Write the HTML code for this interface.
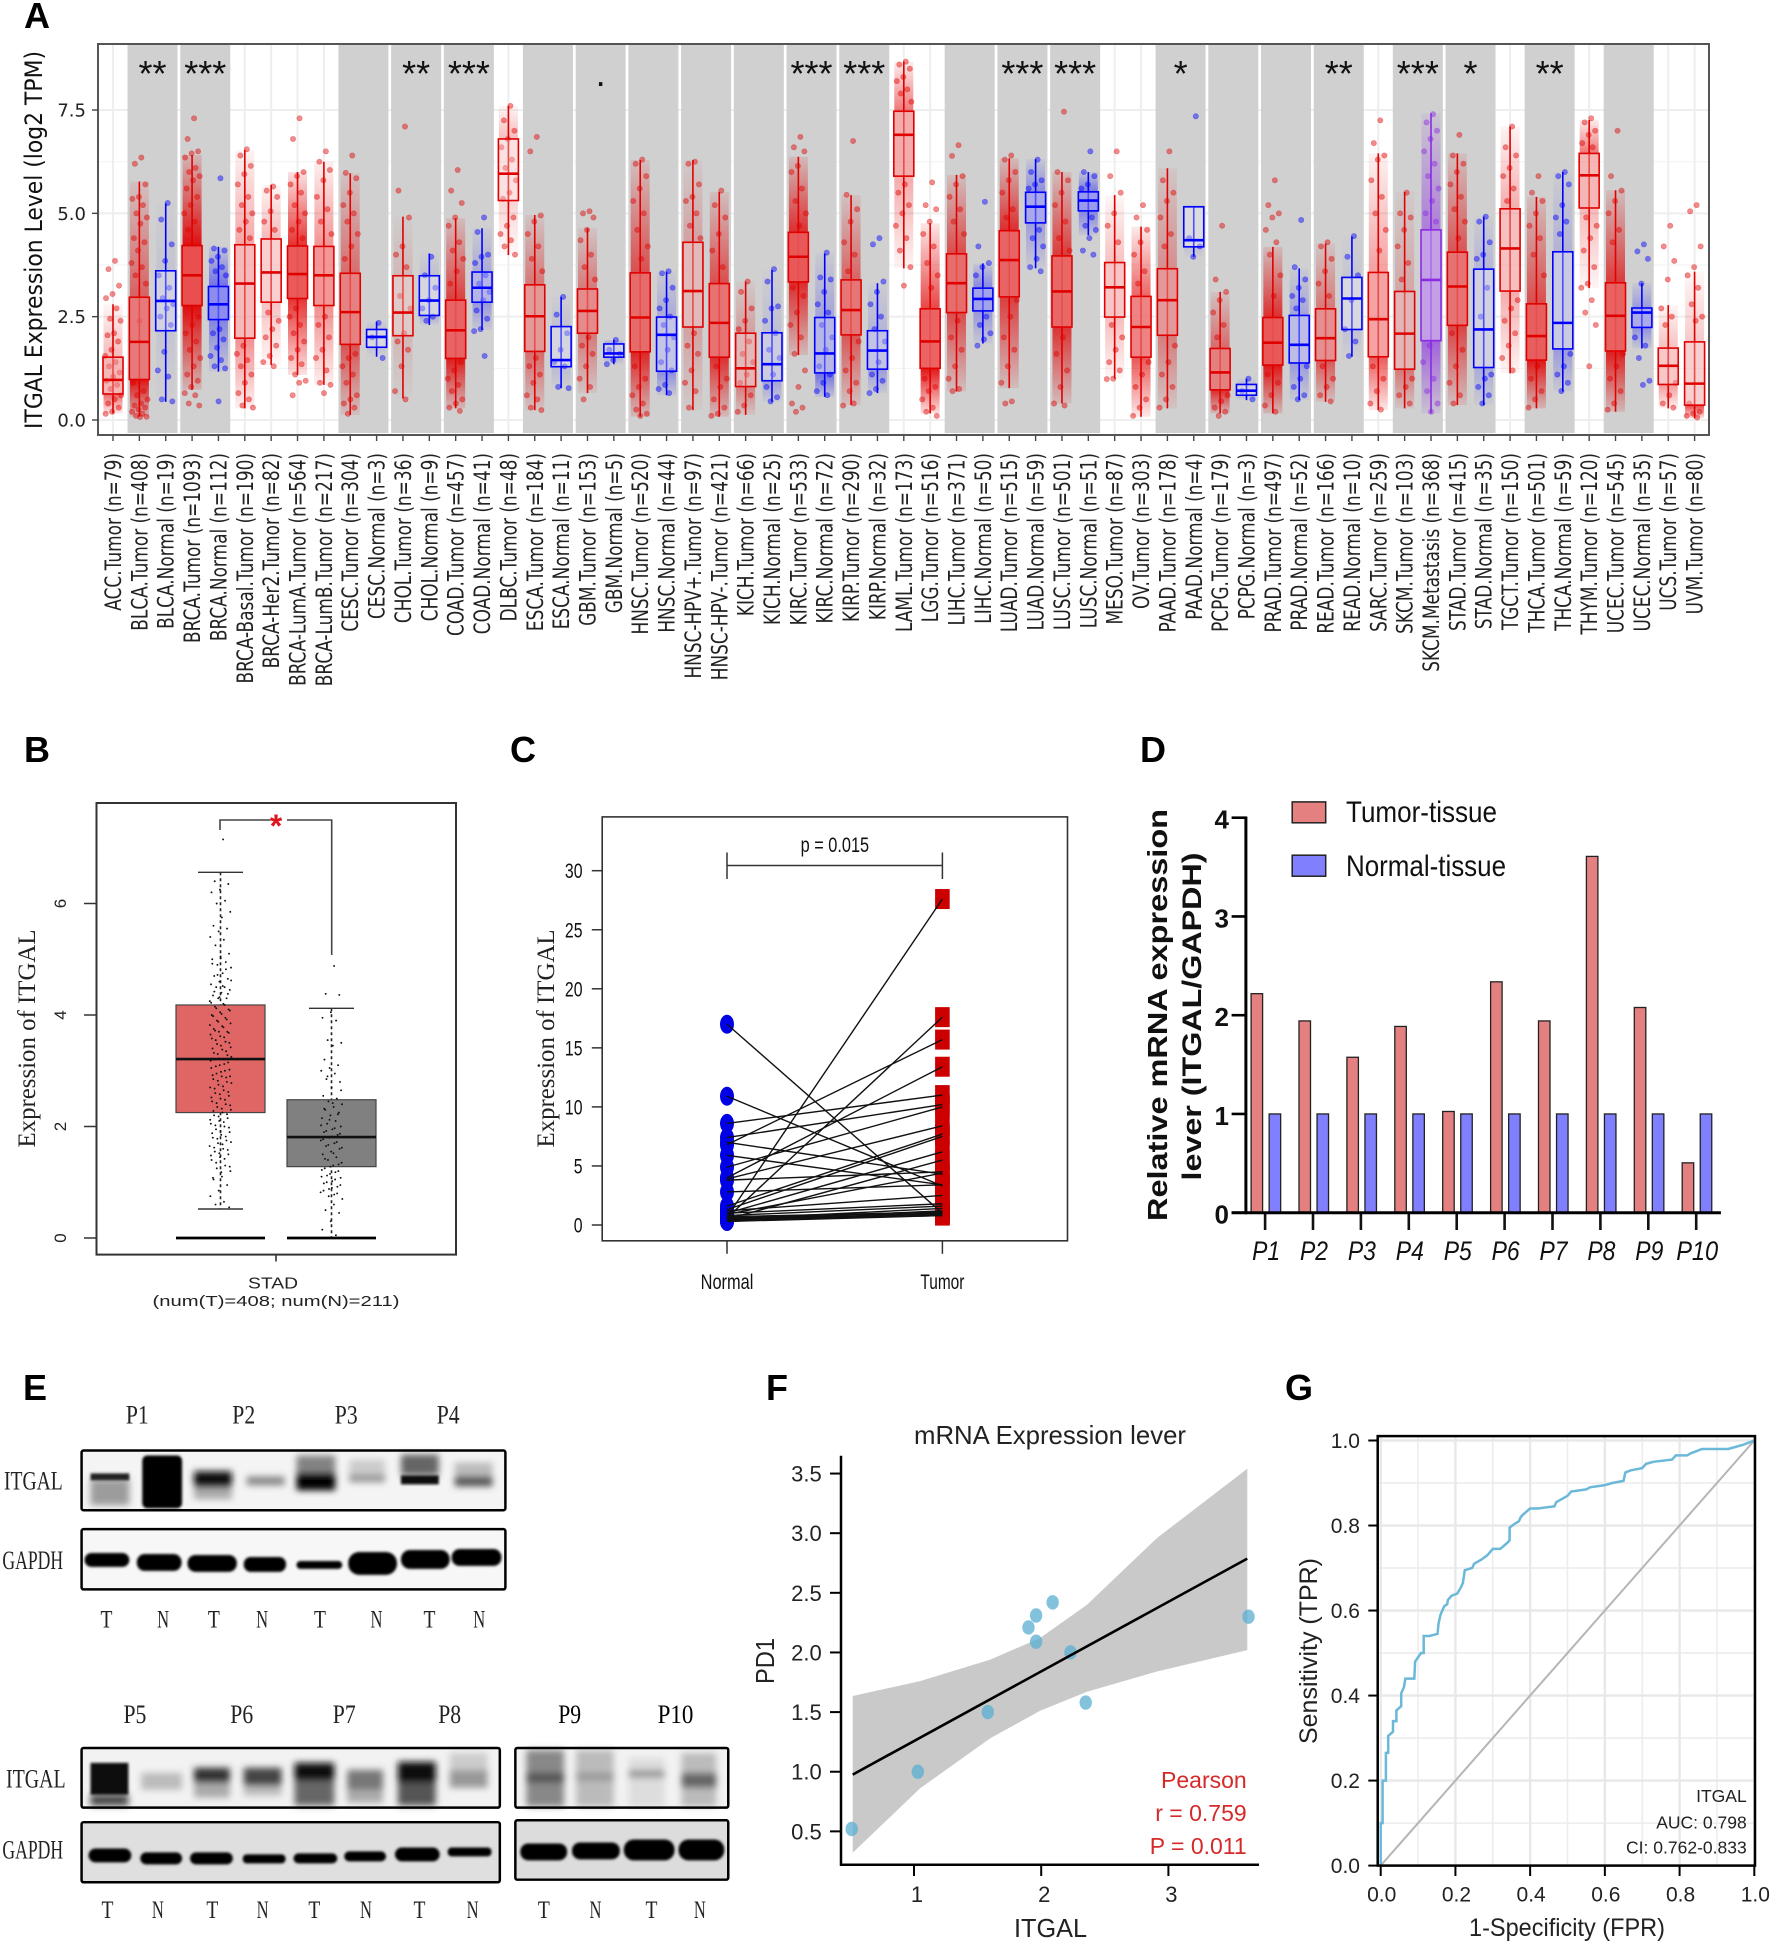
<!DOCTYPE html>
<html lang="en">
<head>
<meta charset="utf-8">
<title>ITGAL expression figure</title>
<style>
html,body{margin:0;padding:0;background:#fff}
svg{display:block}
text{font-family:"Liberation Sans",sans-serif}
.serif{font-family:"Liberation Serif",serif}
.dj{font-family:"DejaVu Sans",sans-serif}
.letter{font-weight:700;font-size:36px;fill:#000}
.rotmid{text-anchor:middle}
</style>
</head>
<body>
<svg id="fig" xmlns="http://www.w3.org/2000/svg" width="1772" height="1942" viewBox="0 0 1772 1942">
<defs>
<filter id="b1" x="-30%" y="-60%" width="160%" height="220%"><feGaussianBlur stdDeviation="1.3"/></filter>
<filter id="b3" x="-30%" y="-60%" width="160%" height="220%"><feGaussianBlur stdDeviation="3.4"/></filter>
<linearGradient id="tail-up-red" x1="0" y1="0" x2="0" y2="1"><stop offset="0" stop-color="#e00000" stop-opacity=".14"/><stop offset="1" stop-color="#e00000"/></linearGradient>
<linearGradient id="tail-down-red" x1="0" y1="0" x2="0" y2="1"><stop offset="0" stop-color="#e00000"/><stop offset="1" stop-color="#e00000" stop-opacity=".14"/></linearGradient>
<linearGradient id="tail-up-blue" x1="0" y1="0" x2="0" y2="1"><stop offset="0" stop-color="#0000ff" stop-opacity=".14"/><stop offset="1" stop-color="#0000ff"/></linearGradient>
<linearGradient id="tail-down-blue" x1="0" y1="0" x2="0" y2="1"><stop offset="0" stop-color="#0000ff"/><stop offset="1" stop-color="#0000ff" stop-opacity=".14"/></linearGradient>
<linearGradient id="tail-up-purple" x1="0" y1="0" x2="0" y2="1"><stop offset="0" stop-color="#8a2be2" stop-opacity=".14"/><stop offset="1" stop-color="#8a2be2"/></linearGradient>
<linearGradient id="tail-down-purple" x1="0" y1="0" x2="0" y2="1"><stop offset="0" stop-color="#8a2be2"/><stop offset="1" stop-color="#8a2be2" stop-opacity=".14"/></linearGradient>
</defs>
<rect width="1772" height="1942" fill="#fff"/>

<text class="letter" x="24" y="28">A</text>
<text class="letter" x="24" y="762">B</text>
<text class="letter" x="510" y="762">C</text>
<text class="letter" x="1140" y="762">D</text>
<text class="letter" x="23" y="1400">E</text>
<text class="letter" x="766" y="1400">F</text>
<text class="letter" x="1285" y="1400">G</text>

<!-- PANEL A -->
<g id="panelA">
<text class="dj rotmid" transform="translate(42,240) rotate(-90)" font-size="24" textLength="378" lengthAdjust="spacingAndGlyphs" fill="#111">ITGAL Expression Level (log2 TPM)</text>
</g>

<!-- PANEL B -->
<g id="panelB">
<rect x="96.5" y="803" width="359.5" height="451.6" fill="none" stroke="#333" stroke-width="2"/>
<text class="serif rotmid" transform="translate(35,1038.5) rotate(-90)" font-size="25" textLength="218" lengthAdjust="spacingAndGlyphs" fill="#222">Expression of ITGAL</text>
<path d="M220 830V820H270M287 820H331.7V955" fill="none" stroke="#444" stroke-width="1.6"/>
<text x="276" y="837" font-size="32" font-weight="700" fill="#e0141e" text-anchor="middle">*</text>
<path d="M276 1254.6V1261.5" stroke="#333" stroke-width="1.6"/>
<text x="273" y="1288.5" font-size="16" text-anchor="middle" textLength="50" lengthAdjust="spacingAndGlyphs" fill="#222">STAD</text>
<text x="276" y="1306" font-size="15" text-anchor="middle" textLength="247" lengthAdjust="spacingAndGlyphs" fill="#222">(num(T)=408; num(N)=211)</text>
</g>

<!-- PANEL C -->
<g id="panelC">
<rect x="602.2" y="816.9" width="465.3" height="423.9" fill="none" stroke="#333" stroke-width="1.6"/>
<text class="serif rotmid" transform="translate(554,1038.5) rotate(-90)" font-size="25" textLength="218" lengthAdjust="spacingAndGlyphs" fill="#222">Expression of ITGAL</text>
<path d="M727 852.5V879M727 865.5H942.4M942.4 852.5V879" fill="none" stroke="#333" stroke-width="1.5"/>
<text x="834.9" y="852" font-size="21" text-anchor="middle" textLength="68.5" lengthAdjust="spacingAndGlyphs" fill="#111">p = 0.015</text>
</g>

<!-- PANEL D -->
<g id="panelD">
<text class="rotmid" transform="translate(1167,1015) rotate(-90)" font-size="28" font-weight="700" textLength="412" lengthAdjust="spacingAndGlyphs" fill="#111">Relative mRNA expression</text>
<text class="rotmid" transform="translate(1201,1016.5) rotate(-90)" font-size="27" font-weight="700" textLength="328" lengthAdjust="spacingAndGlyphs" fill="#111">lever (ITGAL/GAPDH)</text>
<rect x="1292.2" y="801.9" width="33.5" height="20.9" fill="#e58080" stroke="#222" stroke-width="1.5"/>
<rect x="1292.2" y="855.2" width="33.5" height="21" fill="#8080ff" stroke="#222" stroke-width="1.5"/>
<text x="1346" y="822" font-size="30" textLength="151" lengthAdjust="spacingAndGlyphs" fill="#111">Tumor-tissue</text>
<text x="1346" y="876" font-size="30" textLength="160" lengthAdjust="spacingAndGlyphs" fill="#111">Normal-tissue</text>
</g>

<!-- PANEL E -->
<g id="panelE" transform="matrix(.99488 0 0 .9948 0 7.07)">
<g class="serif" fill="#222">
<text class="serif" x="138" y="1424" font-size="26" text-anchor="middle" textLength="23" lengthAdjust="spacingAndGlyphs">P1</text>
<text class="serif" x="245" y="1424" font-size="26" text-anchor="middle" textLength="23" lengthAdjust="spacingAndGlyphs">P2</text>
<text class="serif" x="348" y="1424" font-size="26" text-anchor="middle" textLength="23" lengthAdjust="spacingAndGlyphs">P3</text>
<text class="serif" x="450.5" y="1424" font-size="26" text-anchor="middle" textLength="23" lengthAdjust="spacingAndGlyphs">P4</text>
<text class="serif" x="135.6" y="1725" font-size="26" text-anchor="middle" textLength="23" lengthAdjust="spacingAndGlyphs">P5</text>
<text class="serif" x="243" y="1725" font-size="26" text-anchor="middle" textLength="23" lengthAdjust="spacingAndGlyphs">P6</text>
<text class="serif" x="346" y="1725" font-size="26" text-anchor="middle" textLength="23" lengthAdjust="spacingAndGlyphs">P7</text>
<text class="serif" x="452" y="1725" font-size="26" text-anchor="middle" textLength="23" lengthAdjust="spacingAndGlyphs">P8</text>
<text class="serif" x="572.6" y="1725" font-size="26" fill="#000" text-anchor="middle" textLength="23" lengthAdjust="spacingAndGlyphs">P9</text>
<text class="serif" x="679" y="1725" font-size="26" fill="#000" text-anchor="middle" textLength="36" lengthAdjust="spacingAndGlyphs">P10</text>
<text class="serif" x="4" y="1490" font-size="26" textLength="59" lengthAdjust="spacingAndGlyphs">ITGAL</text>
<text class="serif" x="2.4" y="1570" font-size="26" textLength="61" lengthAdjust="spacingAndGlyphs">GAPDH</text>
<text class="serif" x="6" y="1790" font-size="26" textLength="60" lengthAdjust="spacingAndGlyphs">ITGAL</text>
<text class="serif" x="2.4" y="1861" font-size="26" textLength="61" lengthAdjust="spacingAndGlyphs">GAPDH</text>
</g>
<g id="laneLabels"></g>
<!-- top blots -->
<rect x="82" y="1451" width="426" height="60" fill="#f4f4f4"/>
<g>
<g filter="url(#b3)">
<rect x="91" y="1480" width="39" height="26" fill="#777" opacity=".7"/>
<rect x="195" y="1488" width="38" height="12" fill="#999" opacity=".8"/>
<rect x="298" y="1456" width="39" height="18" fill="#666" opacity=".8"/>
<rect x="351" y="1460" width="36" height="15" fill="#ccc"/>
<rect x="403" y="1455" width="38" height="21" fill="#555" opacity=".9"/>
<rect x="457" y="1463" width="38" height="14" fill="#bbb"/>
<rect x="195" y="1472" width="38" height="16" fill="#111"/>
<rect x="248" y="1477" width="38" height="9" fill="#888"/>
<rect x="298" y="1474" width="39" height="17" fill="#000"/>
<rect x="351" y="1475" width="36" height="8" fill="#999"/>
<rect x="457" y="1477" width="38" height="10" fill="#555"/>
</g>
<g filter="url(#b1)">
<rect x="91" y="1474" width="39" height="7" fill="#222"/>
<rect x="143" y="1456" width="40" height="53" rx="5" fill="#000"/>
<rect x="403" y="1476" width="38" height="9" fill="#0a0a0a"/>
</g>
</g>
<rect x="82" y="1451" width="426" height="60" rx="2" fill="none" stroke="#000" stroke-width="2.5"/>
<rect x="82" y="1530" width="426" height="60.6" fill="#f7f7f7"/>
<g filter="url(#b1)" fill="#000">
<rect x="85" y="1554" width="45" height="14" rx="7"/>
<rect x="137.5" y="1555" width="45" height="17" rx="8"/>
<rect x="188.5" y="1556" width="49.5" height="17" rx="8"/>
<rect x="245" y="1558" width="42.5" height="15" rx="7"/>
<rect x="298" y="1562" width="46" height="8" rx="4"/>
<rect x="350" y="1553" width="49" height="23" rx="11"/>
<rect x="403" y="1551" width="49" height="19" rx="9"/>
<rect x="454" y="1550" width="50" height="17" rx="8"/>
</g>
<rect x="82" y="1530" width="426" height="60.6" rx="2" fill="none" stroke="#000" stroke-width="2.5"/>
<!-- lower blots -->
<rect x="82" y="1750" width="420.4" height="60" fill="#f2f2f2"/>
<g>
<g filter="url(#b3)">
<rect x="91" y="1797" width="38" height="11" fill="#444"/>
<rect x="195" y="1785" width="36" height="15" fill="#aaa"/>
<rect x="245" y="1788" width="38" height="10" fill="#bbb"/>
<rect x="296" y="1783" width="40" height="25" fill="#666"/>
<rect x="349" y="1792" width="36" height="13" fill="#aaa"/>
<rect x="400" y="1785" width="38" height="23" fill="#555"/>
<rect x="452" y="1755" width="38" height="17" fill="#ccc"/>
<rect x="142" y="1775" width="41" height="17" fill="#bbb"/>
<rect x="195" y="1770" width="36" height="15" fill="#333"/>
<rect x="245" y="1770" width="38" height="18" fill="#444"/>
<rect x="296" y="1765" width="40" height="18" fill="#111"/>
<rect x="349" y="1772" width="36" height="20" fill="#777"/>
<rect x="400" y="1764" width="38" height="21" fill="#0a0a0a"/>
<rect x="452" y="1772" width="38" height="18" fill="#999"/>
</g>
<rect x="91" y="1765" width="38" height="32" fill="#0a0a0a" filter="url(#b1)"/>
</g>
<rect x="82" y="1750" width="420.4" height="60" rx="2" fill="none" stroke="#000" stroke-width="2.5"/>
<rect x="82" y="1824.6" width="420.4" height="60.4" fill="#dfdfdf"/>
<g filter="url(#b1)" fill="#000">
<rect x="89" y="1851" width="43" height="14" rx="7"/>
<rect x="141" y="1855" width="42" height="12" rx="6"/>
<rect x="191" y="1855" width="43" height="12" rx="6"/>
<rect x="244" y="1857" width="43" height="9" rx="4"/>
<rect x="295" y="1856" width="44" height="10" rx="5"/>
<rect x="346" y="1854" width="42" height="10" rx="5"/>
<rect x="397" y="1850" width="45" height="14" rx="7"/>
<rect x="450" y="1850" width="44" height="9" rx="4"/>
</g>
<rect x="82" y="1824.6" width="420.4" height="60.4" rx="2" fill="none" stroke="#000" stroke-width="2.5"/>
<rect x="518" y="1750" width="214" height="60" fill="#f2f2f2"/>
<g filter="url(#b3)">
<rect x="529" y="1752" width="38" height="57" fill="#888"/>
<rect x="579" y="1752" width="38" height="57" fill="#bbb"/>
<rect x="632" y="1760" width="36" height="49" fill="#ddd"/>
<rect x="685" y="1755" width="35" height="54" fill="#bbb"/>
<rect x="529" y="1775" width="38" height="10" fill="#555"/>
<rect x="579" y="1775" width="38" height="8" fill="#999"/>
<rect x="632" y="1772" width="36" height="8" fill="#999"/>
<rect x="685" y="1775" width="35" height="15" fill="#666"/>
</g>
<rect x="518" y="1750" width="214" height="60" rx="2" fill="none" stroke="#000" stroke-width="2.5"/>
<rect x="518" y="1822.7" width="214" height="59.7" fill="#dcdcdc"/>
<g filter="url(#b1)" fill="#000">
<rect x="523" y="1846" width="47" height="17" rx="8"/>
<rect x="575" y="1845" width="48" height="17" rx="8"/>
<rect x="627" y="1842" width="51" height="21" rx="10"/>
<rect x="682" y="1842" width="46" height="21" rx="10"/>
</g>
<rect x="518" y="1822.7" width="214" height="59.7" rx="2" fill="none" stroke="#000" stroke-width="2.5"/>
</g>

<!-- PANEL F -->
<g id="panelF">
<text x="1050" y="1444" font-size="26" text-anchor="middle" textLength="272" lengthAdjust="spacingAndGlyphs" fill="#222">mRNA Expression lever</text>
<text x="1050.5" y="1937" font-size="26" text-anchor="middle" textLength="73" lengthAdjust="spacingAndGlyphs" fill="#222">ITGAL</text>
<text class="rotmid" transform="translate(774,1661) rotate(-90)" font-size="26" textLength="46" lengthAdjust="spacingAndGlyphs" fill="#222">PD1</text>
<text x="1246.7" y="1788" font-size="23" text-anchor="end" fill="#d42a2a">Pearson</text>
<text x="1246.7" y="1821" font-size="23" text-anchor="end" fill="#d42a2a">r = 0.759</text>
<text x="1246.7" y="1854" font-size="23" text-anchor="end" fill="#d42a2a">P = 0.011</text>
</g>

<!-- PANEL G -->
<g id="panelG">
<text x="1567" y="1936" font-size="25" text-anchor="middle" textLength="196" lengthAdjust="spacingAndGlyphs" fill="#222">1-Specificity (FPR)</text>
<text class="rotmid" transform="translate(1317,1651) rotate(-90)" font-size="25" textLength="186" lengthAdjust="spacingAndGlyphs" fill="#222">Sensitivity (TPR)</text>
</g>
</svg>

<script>
/* ---------- Panel A data ---------- */
const categoriesA = ['ACC.Tumor (n=79)','BLCA.Tumor (n=408)','BLCA.Normal (n=19)','BRCA.Tumor (n=1093)','BRCA.Normal (n=112)','BRCA-Basal.Tumor (n=190)','BRCA-Her2.Tumor (n=82)','BRCA-LumA.Tumor (n=564)','BRCA-LumB.Tumor (n=217)','CESC.Tumor (n=304)','CESC.Normal (n=3)','CHOL.Tumor (n=36)','CHOL.Normal (n=9)','COAD.Tumor (n=457)','COAD.Normal (n=41)','DLBC.Tumor (n=48)','ESCA.Tumor (n=184)','ESCA.Normal (n=11)','GBM.Tumor (n=153)','GBM.Normal (n=5)','HNSC.Tumor (n=520)','HNSC.Normal (n=44)','HNSC-HPV+.Tumor (n=97)','HNSC-HPV-.Tumor (n=421)','KICH.Tumor (n=66)','KICH.Normal (n=25)','KIRC.Tumor (n=533)','KIRC.Normal (n=72)','KIRP.Tumor (n=290)','KIRP.Normal (n=32)','LAML.Tumor (n=173)','LGG.Tumor (n=516)','LIHC.Tumor (n=371)','LIHC.Normal (n=50)','LUAD.Tumor (n=515)','LUAD.Normal (n=59)','LUSC.Tumor (n=501)','LUSC.Normal (n=51)','MESO.Tumor (n=87)','OV.Tumor (n=303)','PAAD.Tumor (n=178)','PAAD.Normal (n=4)','PCPG.Tumor (n=179)','PCPG.Normal (n=3)','PRAD.Tumor (n=497)','PRAD.Normal (n=52)','READ.Tumor (n=166)','READ.Normal (n=10)','SARC.Tumor (n=259)','SKCM.Tumor (n=103)','SKCM.Metastasis (n=368)','STAD.Tumor (n=415)','STAD.Normal (n=35)','TGCT.Tumor (n=150)','THCA.Tumor (n=501)','THCA.Normal (n=59)','THYM.Tumor (n=120)','UCEC.Tumor (n=545)','UCEC.Normal (n=35)','UCS.Tumor (n=57)','UVM.Tumor (n=80)'];
const boxQ3A = [1.52,2.97,3.61,4.22,3.23,4.24,4.38,4.21,4.2,3.55,2.19,3.49,3.49,2.9,3.58,6.8,3.27,2.26,3.17,1.84,3.56,2.49,4.3,3.3,2.1,2.11,4.54,2.48,3.39,2.16,7.47,2.69,4.02,3.19,4.58,5.51,3.97,5.52,3.81,2.99,3.66,5.16,1.73,.86,2.48,2.53,2.69,3.45,3.57,3.11,4.6,4.06,3.65,5.11,2.81,4.07,6.45,3.32,2.71,1.74,1.89];
const boxMedianA = [.97,1.89,2.88,3.5,2.8,3.3,3.57,3.53,3.5,2.61,2.01,2.6,2.89,2.17,3.2,5.96,2.51,1.45,2.64,1.61,2.48,2.06,3.12,2.35,1.25,1.35,3.95,1.61,2.66,1.68,6.9,1.9,3.31,2.93,3.87,5.16,3.11,5.31,3.21,2.25,2.9,4.35,1.15,.71,1.87,1.82,1.98,2.94,2.44,2.09,3.39,3.23,2.19,4.15,2.03,2.35,5.92,2.52,2.6,1.31,.88];
const boxQ1A = [.63,.98,2.16,2.77,2.43,1.98,2.85,2.94,2.77,1.83,1.76,2.04,2.53,1.49,2.85,5.31,1.66,1.29,2.1,1.52,1.65,1.18,2.25,1.52,.81,.95,3.34,1.14,2.06,1.23,5.9,1.25,2.6,2.64,2.98,4.77,2.25,5.06,2.49,1.52,2.05,4.19,.73,.6,1.33,1.38,1.44,2.19,1.53,1.23,1.92,2.29,1.27,3.12,1.45,1.72,5.13,1.67,2.24,.86,.36];
const whiskerHighA = [2.8,5.77,5.24,6.41,4.19,6.53,5.69,6,6.25,5.97,2.38,4.92,4.03,4.88,4.64,7.6,4.96,2.98,4.64,1.94,6.29,3.59,6.29,5.52,3.35,3.63,6.37,4.03,5.44,3.31,8.67,4.76,5.93,3.79,6.33,6.31,6,6,5.44,4.68,6.09,5.16,3.1,1,4.19,3.67,4.27,4.44,6.45,5.52,7.42,6.45,4.92,7.1,5.4,6,7.26,5.56,3.31,2.78,3.59];
const whiskerLowA = [.16,.08,.44,.73,1.17,.28,1.33,1.09,.85,.12,1.53,.52,2.3,.28,2.18,3.99,.24,.77,.65,1.35,.08,.6,.24,.08,.12,.44,1.57,.56,.36,.65,3.67,.16,.69,1.85,.77,3.67,.4,4.47,1,.08,.28,3.95,.16,.48,.16,.48,.44,1.53,.24,.28,.16,.36,.36,1.13,.28,.69,3.19,.2,1.73,.28,.04];
const jitterValuesA = [
[3.85,3.65,3.25,3.05,2.95,2.7,2.45,2.4,2.1,2.05,1.9,1.7,1.55,1.4,1.3,1.15,1.05,.95,.85,.75,.6,.5,.4,.3,.2,.15],
[6.35,6.2,5.7,5.4,5.35,5.2,5,4.9,4.75,4.4,4.3,4.1,3.8,3.7,3.5,3.3,2.4,.9,.7,.6,.5,.4,.35,.3,.25,.2,.15,.1,.08,.07],
[5.25,4.85,4.25,3.85,3.5,3.2,2.95,2.8,2.7,2.5,2.3,1.65,1.2,1.05,.5,.45],
[7.3,6.8,6.5,6.45,6.35,6.1,6,5.9,5.8,5.6,5.4,5.2,5,4.8,4.6,2.5,2.3,2.1,1.9,1.7,1.5,1.3,1.1,.95,.8,.65,.6,.4,.35],
[5.85,4.15,4.1,3.95,3.85,3.7,3.6,3.5,2.2,2.1,1.95,1.75,1.55,1.45,1.3,1.25,.45],
[6.55,6.4,6.15,5.95,5.7,5.4,5.2,5,4.8,4.6,4.4,1.8,1.6,1.45,1.3,1.1,.9,.65,.5,.35,.3],
[5.65,5.55,5.4,5.05,4.8,4.6,2.6,2.4,2.2,2,1.8,1.55,1.4,1.3],
[7.3,6.8,6,5.9,5.7,5.5,5.2,5,4.8,4.6,4.4,2.7,2.5,2.3,2.1,1.9,1.7,1.5,1.35,1.1,.95,.9,.6],
[6.5,6.25,6.05,5.8,5.4,5.1,4.8,4.5,2.5,2.3,2,1.7,1.5,1.2,.9,.85,.65],
[6.4,5.98,5.85,5.5,5.2,5,4.8,4.5,4.2,3.9,1.6,1.5,1.3,1.1,.9,.6,.5,.4,.3,.15],
[2.35,2,1.5],
[7.1,5.55,4.9,4.2,4,3.7,3,2.7,2.1,1.9,1.7,1.3,.7,.5],
[3.95,3.5,3.2,2.9,2.7,2.5,2.4],
[6.05,5.55,5.25,4.9,4.7,4.3,4.1,3.9,3.6,3.3,1.4,1.2,1,.85,.7,.5,.4,.3,.22],
[4.9,4.55,4.0,3.95,3.8,3.5,3.3,3.1,2.9,2.65,2.45,2.2,2.15,1.55],
[7.6,7.25,7,6.8,6.6,6.3,6.1,5.8,5.5,5.35,4.9,4.7,4.5,4.35,4.2,4],
[6.85,6.5,4.95,4.8,4.5,4.2,3.9,3.6,1.5,1.3,1.1,.9,.6,.5,.3,.24],
[2.98,2.55,2.1,1.7,1.4,1.3,.8,.77],
[5.05,5,4.9,4.6,4.35,4,3.7,3.4,2,1.8,1.6,1.3,1,.8,.5],
[1.94,1.7,1.6,1.45,1.35],
[6.3,6.2,5.9,5.6,5.3,5,4.6,4.2,3.9,1.3,1,.8,.6,.4,.25,.15,.1],
[3.6,3.55,3.2,2.9,2.7,2.5,2.3,2,1.7,1.4,1.2,.85,.75,.65],
[6.25,6.2,5.7,5.4,5.3,5,4.7,4.4,2.1,1.8,1.6,1.2,.9,.7,.3],
[5.55,5.2,4.9,4.5,4.1,3.7,1.3,1,.8,.5,.3,.15,.1],
[3.35,3.1,2.7,2.4,2.2,1.9,1.6,1.4,1.1,.9,.6,.35,.2],
[3.65,3.35,2.75,2.7,2.4,2.1,1.7,1.5,1.1,.8,.55,.45],
[6.85,6.6,6.5,6.15,6,5.6,5.3,5,4.7,3.2,3,2.6,2.3,2,1.6,1.2,.8,.4,.3,.2],
[4.05,3.45,3.4,3.1,2.8,2.6,2.3,2,1.7,1.3,1.1,.9,.7,.6],
[6.75,5.45,5.1,4.8,4.3,4,3.6,1.9,1.5,1.2,.9,.7,.35,.4],
[4.4,4.25,3.35,3.1,2.8,2.5,2.2,1.9,1.4,1.1,.95,.75,.65],
[8.67,8.6,8.5,8.3,8.2,8,7.9,7.7,5.7,5.5,5.2,5,4.7,4.4,4.1,3.7,3.25],
[5.75,5.2,5.1,4.8,4.5,4.2,3.8,3.5,3.2,1,.8,.7,.5,.3,.2,.1],
[6.65,6.39,5.9,5.7,5.4,5.1,4.8,4.5,2.4,2,1.7,1.3,1,.75,.7],
[5.28,4.2,3.8,3.7,3.5,2.5,2.3,2.1,1.95,1.8],
[6.4,6.3,6,5.8,5.5,5.1,4.9,2.9,2.5,2,1.7,1.3,.9,.45,.4],
[6.3,6,5.8,5.7,5.6,4.6,4.4,4.2,3.9,3.7,3.6],
[7.46,6,5.8,5.5,5.2,4.8,4.4,4.1,2,1.6,1.2,.8,.4,.35],
[6.5,6,5.9,5.7,5.6,4.9,4.7,4.6,4.4,4.1,4],
[6.5,5.9,5.5,5,4.7,4.3,2.3,2,1.7,1.4,1.2,1,.99],
[5.2,4.9,4.6,4.3,4,3.6,3.3,1.4,1.1,.8,.5,.3,.1],
[6.5,5.8,5.5,5.3,4.9,4.5,4.2,1.8,1.4,1.1,.8,.5,.3],
[7.35,4.4,4.2,3.95],
[4.7,3.4,3.1,2.9,2.6,2.3,2,.6,.45,.3,.2,.1],
[1,.7,.5],
[5.8,5.2,5,4.9,4.6,4.3,4,3.5,3,1.1,.9,.6,.35,.2],
[4.84,3.7,3.4,3.2,3,2.9,2.7,1.3,1,.8,.6,.5],
[4.3,4.2,3.9,3.6,3.3,3,1.3,1,.8,.6,.45],
[4.45,3.95,3.5,2.9,2.2,1.9,1.55],
[7.25,6.7,6.4,6.3,5.8,5.4,5,4.6,4.1,1.3,1,.7,.4,.25],
[5.5,5,4.9,4.6,4.2,3.8,3.4,1,.8,.6,.4],
[7.4,7.2,7,6.8,6.5,6.2,5.9,5.6,5.3,5,4.8,1.8,1.4,1,.7,.4,.2],
[6.9,6.4,6.2,6,5.7,5.4,5.1,4.8,4.4,2.1,1.7,1.3,.9,.6,.4],
[4.92,4.8,4.3,4,3.9,3.2,2.5,1.1,1,.8,.6,.4],
[7.1,6.6,6.4,6.1,5.9,5.6,5.3,2.9,2.7,2.4,2.1,1.8,1.5,1.2],
[5.9,5.5,5.3,5,4.7,4.4,4,3.5,1.3,1,.7,.5,.3],
[6,5.9,5.7,5.2,4.9,4.8,4.5,1.6,1.3,1.1,.9,.7],
[7.3,7.2,7,6.9,6.7,6.6,4.9,4.7,4.4,4.1,3.7,3.3,3.2,2.9,2.6,2.3,1.3],
[7,5.9,5.55,5.3,5,4.6,4.3,1.6,1.3,1,.7,.4,.25],
[4.25,4.08,3.9,3.3,2.0,1.8,1.5,.95,.85],
[4.7,4.2,3.85,3.4,2.7,2.5,2.3,.9,.6,.4,.3],
[5.2,5.05,4.2,3.7,3.5,3.2,2.8,2.5,2.4,.4,.2,.15,.1,.06]
];
const grayPairStartsA = [1,3,9,11,13,16,18,20,22,24,26,28,32,34,36,40,42,44,46,49,51,54,57];
const sigPairsA = [1,3,11,13,18,26,28,34,36,40,46,49,51,54];
const sigLabelsA = ['**','***','**','***','.','***','***','***','***','*','**','***','*','**'];
const yTicksA = [0,2.5,5,7.5];
const yMinorA = [1.25,3.75,6.25];

/* ---------- Panel B data ---------- */
const tumorBoxB = {q1:2.25, med:3.21, q3:4.18, lo:.52, hi:6.56};
const normalBoxB = {q1:1.28, med:1.81, q3:2.48, lo:0, hi:4.12};
const yTicksB = [0,2,4,6];
const tumorDotsB = [7.15,6.4,6.35,6.25,6.2,6.05,6,5.85,5.75,5.6,5.55,5.5,5.4,5.35,5.25,5.1,5.05,5,4.95,4.9,4.85,4.75,4.7,4.65,4.6,4.55,4.5,4.5,4.45,4.4,4.35,4.3,4.3,4.25,4.2,4.15,4.1,4.05,4,3.95,3.9,3.85,3.8,3.75,3.7,3.7,3.65,3.6,3.55,3.5,3.45,3.4,3.35,3.3,3.25,3.2,3.2,3.15,3.1,3.05,3,2.95,2.9,2.9,2.85,2.8,2.75,2.7,2.65,2.6,2.55,2.5,2.45,2.4,2.35,2.3,2.25,2.2,2.15,2.1,2.05,2,1.95,1.9,1.85,1.8,1.75,1.7,1.65,1.6,1.55,1.5,1.45,1.4,1.3,1.25,1.2,1.1,1.05,.95,.85,.75,.65,.6,.55,5.02,4.92,4.82,4.72,4.62,4.52,4.42,4.38,4.32,4.22,4.18,4.12,4.08,4.02,3.98,3.92,3.88,3.82,3.78,3.72,3.68,3.62,3.58,3.52,3.48,3.42,3.38,3.32,3.28,3.22,3.18,3.12,3.08,3.02,2.98,2.92,2.88,2.82,2.78,2.72,2.68,2.62,2.58,2.52,2.48,2.42,2.38,2.32,2.28,2.22,2.18,2.12,2.08,2.02,1.98,1.92,1.88,1.82,1.78,1.72,1.68,1.62,1.58,1.52,1.48,1.42,1.35,1.28,1.18,1.08];
const normalDotsB = [4.88,4.38,4.36,4.05,3.95,3.9,3.55,3.5,3.45,3.2,3.1,3.05,3,2.95,2.85,2.8,2.7,2.55,2.5,2.45,2.4,2.35,2.3,2.25,2.2,2.15,2.1,2.05,2,1.95,1.9,1.85,1.8,1.75,1.7,1.65,1.6,1.55,1.5,1.45,1.4,1.35,1.3,1.25,1.2,1.15,1.1,1.05,1,.95,.9,.85,.8,.75,.7,.6,.5,.45,.3,.15,.05,2.9,2.65,2.42,2.32,2.22,2.12,2.02,1.97,1.92,1.87,1.82,1.77,1.72,1.67,1.62,1.52,1.42,1.32,1.28,1.22,1.18,1.12,1.08,1.02,.98,.92,.88,.82,.78];

/* ---------- Panel C data ---------- */
const normalValuesC = [17,10.9,8.6,7.4,6.8,7,5.9,4.9,4,3.9,3.8,2.8,1.6,1.3,1,.7,.6,.5,.9,1.2,1,.8,.5,.4,.3,.6,.5,.7,.4,.3];
const tumorValuesC = [1,3.3,11,10.2,15.7,4.3,3.4,10,13.4,8.4,4.5,3.4,7.7,7.5,6.2,27.6,17.6,5.5,4.4,2.5,1.8,1.6,1.4,1.2,.8,1,.9,1.1,.8,1];
const yTicksC = [0,5,10,15,20,25,30];
const xLabelsC = ['Normal','Tumor'];

/* ---------- Panel D data ---------- */
const patientsD = ['P1','P2','P3','P4','P5','P6','P7','P8','P9','P10'];
const tumorTissueD = [2.218,1.942,1.574,1.886,1.025,2.338,1.942,3.608,2.078,.505];
const normalTissueD = [1,1,1,1,1,1,1,1,1,1];
const yTicksD = [0,1,2,3,4];

/* ---------- Panel E labels ---------- */
const laneTextE = ['T','N','T','N','T','N','T','N'];
const laneTextShortE = ['T','N','T','N'];

/* ---------- Panel F data ---------- */
const itgalF = [.51,1.03,1.58,1.9,1.96,1.96,2.09,2.23,2.35,3.63];
const pd1F = [.52,1,1.5,2.21,2.31,2.09,2.42,2,1.58,2.3];
const fitXF = [.518,3.62];
const fitYF = [.976,2.787];
const ciXF = [.518,1.047,1.6,1.99,2.36,2.91,3.62];
const ciUpperF = [1.635,1.76,1.94,2.12,2.4,2.96,3.54];
const ciLowerF = [.32,.86,1.28,1.51,1.67,1.84,2.02];
const yTicksF = [.5,1,1.5,2,2.5,3,3.5];
const xTicksF = [1,2,3];

/* ---------- Panel G data ---------- */
const rocFpr = [0,0,.005,.005,.014,.014,.02,.02,.033,.033,.042,.042,.055,.055,.062,.066,.09,.092,.1,.108,.115,.115,.13,.152,.155,.16,.17,.178,.18,.19,.205,.215,.22,.225,.245,.25,.27,.285,.3,.32,.34,.345,.345,.36,.37,.375,.38,.4,.42,.465,.47,.5,.51,.55,.56,.6,.62,.65,.655,.67,.7,.71,.73,.78,.79,.82,.83,.86,.93,.97,1];
const rocTpr = [0,.1,.1,.2,.2,.265,.265,.305,.315,.34,.34,.365,.375,.405,.42,.44,.44,.48,.49,.5,.5,.54,.54,.545,.57,.59,.61,.615,.625,.635,.64,.655,.665,.695,.7,.71,.72,.73,.745,.745,.76,.765,.795,.805,.81,.82,.825,.84,.84,.845,.855,.87,.88,.885,.89,.895,.9,.905,.925,.93,.935,.945,.95,.955,.965,.965,.97,.98,.98,.99,1];
const ticksG = [0,.2,.4,.6,.8,1];
const minorG = [.1,.3,.5,.7,.9];
const rocLegendG = ['ITGAL','AUC: 0.798','CI: 0.762-0.833'];

/* ---------- helpers ---------- */
const NS = 'http://www.w3.org/2000/svg';
function mk(parent, tagName, attrs) {
  const el = document.createElementNS(NS, tagName);
  for (const k in attrs) el.setAttribute(k, attrs[k]);
  parent.appendChild(el);
  return el;
}
function label(parent, x, y, str, attrs) {
  const el = mk(parent, 'text', Object.assign({x: x, y: y}, attrs));
  el.textContent = str;
  return el;
}

/* ---------- Panel A ---------- */
(function () {
  const g = document.getElementById('panelA');
  const xA = i => 113 + 26.36 * i;
  const yA = v => 420 - 41.33 * v;
  const L = 98, R = 1709, T = 44, B = 435;
  const bg = mk(g, 'rect', {x: L, y: T, width: R - L, height: B - T, fill: '#fff'});
  
  
  yMinorA.forEach(v => {
    const ln = mk(g, 'line', {x1: L, x2: R, y1: yA(v), y2: yA(v), stroke: '#f2f2f2', 'stroke-width': 1});
    
    
  });
  yTicksA.forEach(v => {
    const ln = mk(g, 'line', {x1: L, x2: R, y1: yA(v), y2: yA(v), stroke: '#eeeeee', 'stroke-width': 2});
    
    
  });
  categoriesA.forEach((c, i) => {
    const ln = mk(g, 'line', {x1: xA(i), x2: xA(i), y1: T, y2: B, stroke: '#eeeeee', 'stroke-width': 2});
    
    
  });
  grayPairStartsA.forEach(s => {
    const c = (xA(s) + xA(s + 1)) / 2;
    const r = mk(g, 'rect', {x: c - 25, y: T + 1, width: 50, height: B - T - 3, fill: '#d0d0d0'});
    
    
  });
  sigPairsA.forEach((s, k) => {
    const c = (xA(s) + xA(s + 1)) / 2;
    const t = label(g, c, 86, sigLabelsA[k], {'font-size': 36, 'text-anchor': 'middle', fill: '#111'});
    
    
  });
  categoriesA.forEach((c, i) => {
    const n = +c.match(/n=(\d+)/)[1];
    const kind = c.includes('Metastasis') ? 'purple' : c.includes('Normal') ? 'blue' : 'red';
    const color = kind === 'purple' ? '#8a2be2' : kind === 'blue' ? '#0000ff' : '#e00000';
    const x = xA(i);
    /* density strips from the box summary and n: tails fade toward the whisker ends */
    const hUp = Math.max(1, (whiskerHighA[i] - boxQ3A[i]) * 41.33);
    const hMid = Math.max(1, (boxQ3A[i] - boxQ1A[i]) * 41.33);
    const hDown = Math.max(1, (boxQ1A[i] - whiskerLowA[i]) * 41.33);
    const up = mk(g, 'rect', {x: x - 9.5, y: yA(whiskerHighA[i]), width: 19, height: hUp, fill: 'url(#tail-up-' + kind + ')', 'fill-opacity': (1 - Math.pow(.62, 1.8 * n * .25 / hUp)).toFixed(3)});
    
    
    const mid = mk(g, 'rect', {x: x - 9.5, y: yA(boxQ3A[i]), width: 19, height: hMid, fill: color, 'fill-opacity': (1 - Math.pow(.62, n * .5 / hMid)).toFixed(3)});
    
    
    const down = mk(g, 'rect', {x: x - 9.5, y: yA(boxQ1A[i]), width: 19, height: hDown, fill: 'url(#tail-down-' + kind + ')', 'fill-opacity': (1 - Math.pow(.62, 1.8 * n * .25 / hDown)).toFixed(3)});
    
    
    jitterValuesA[i].forEach((v, k) => {
      const off = (((k + 1) * 0.618034) % 1) * 2 - 1;
      const d = mk(g, 'circle', {cx: x + off * 8.5, cy: yA(v), r: 2.7, fill: color, 'fill-opacity': .45, stroke: color, 'stroke-opacity': .35, 'stroke-width': .6});
      
      
    });
    const wh = mk(g, 'line', {x1: x, x2: x, y1: yA(whiskerHighA[i]), y2: yA(whiskerLowA[i]), stroke: color, 'stroke-width': 1.6});
    
    
    const b = mk(g, 'rect', {x: x - 10, y: yA(boxQ3A[i]), width: 20, height: yA(boxQ1A[i]) - yA(boxQ3A[i]), fill: '#fff', 'fill-opacity': .3, stroke: color, 'stroke-width': 1.6});
    
    
    const m = mk(g, 'line', {x1: x - 10, x2: x + 10, y1: yA(boxMedianA[i]), y2: yA(boxMedianA[i]), stroke: color, 'stroke-width': 2.6});
    
    
    const tk = mk(g, 'line', {x1: x, x2: x, y1: B, y2: B + 6, stroke: '#444', 'stroke-width': 1.4});
    
    
    const t = mk(g, 'text', {'class': 'dj', 'font-size': 22, 'text-anchor': 'end', fill: '#222', transform: 'translate(' + (x + 8) + ',453) rotate(-90) scale(.77,1)'});
    t.textContent = c;
    
    
  });
  const frame = mk(g, 'rect', {x: L, y: T, width: R - L, height: B - T, fill: 'none', stroke: '#555', 'stroke-width': 2});
  
  
  yTicksA.forEach(v => {
    const tk = mk(g, 'line', {x1: L - 6, x2: L, y1: yA(v), y2: yA(v), stroke: '#444', 'stroke-width': 1.4});
    
    
    const t = label(g, 86, yA(v) + 6.5, v.toFixed(1), {'class': 'dj', 'font-size': 18, 'text-anchor': 'end', fill: '#222'});
    
    
  });
})();

/* ---------- Panel B ---------- */
(function () {
  const g = document.getElementById('panelB');
  const yB = v => 1238 - 55.75 * v;
  yTicksB.forEach(v => {
    const tk = mk(g, 'line', {x1: 84, x2: 96.5, y1: yB(v), y2: yB(v), stroke: '#333', 'stroke-width': 1.5});
    
    
    const t = mk(g, 'text', {'font-size': 17, 'text-anchor': 'middle', fill: '#222', transform: 'translate(66,' + yB(v) + ') rotate(-90)'});
    t.textContent = v;
    
    
  });
  function box(s, cx, fill, dots, name) {
    const wh = mk(g, 'line', {x1: cx, x2: cx, y1: yB(s.hi), y2: yB(s.lo), stroke: '#222', 'stroke-width': 1.6, 'stroke-dasharray': '3 3'});
    
    
    [s.hi, s.lo].forEach(v => {
      if (v === 0) return;
      const cap = mk(g, 'line', {x1: cx - 22.5, x2: cx + 22.5, y1: yB(v), y2: yB(v), stroke: '#333', 'stroke-width': 1.4});
      
      
    });
    const r = mk(g, 'rect', {x: cx - 44.5, y: yB(s.q3), width: 89, height: yB(s.q1) - yB(s.q3), fill: fill, stroke: '#444', 'stroke-width': 1.2});
    
    
    const m = mk(g, 'line', {x1: cx - 44.5, x2: cx + 44.5, y1: yB(s.med), y2: yB(s.med), stroke: '#111', 'stroke-width': 2.6});
    
    
    const base = mk(g, 'line', {x1: cx - 44.5, x2: cx + 44.5, y1: yB(0), y2: yB(0), stroke: '#000', 'stroke-width': 2.8});
    
    
    dots.forEach((v, k) => {
      const off = (((k + 1) * 0.618034) % 1) * 2 - 1;
      const d = mk(g, 'circle', {cx: cx + off * 11, cy: yB(v), r: .95, fill: '#111'});
      
      
    });
  }
  box(tumorBoxB, 220.5, '#e06666', tumorDotsB, 'tumor');
  box(normalBoxB, 331.5, '#808080', normalDotsB, 'normal');
})();

/* ---------- Panel C ---------- */
(function () {
  const g = document.getElementById('panelC');
  const yC = v => 1225 - 11.81 * v;
  const xC = [727, 942.4];
  yTicksC.forEach(v => {
    const tk = mk(g, 'line', {x1: 591.8, x2: 602.2, y1: yC(v), y2: yC(v), stroke: '#333', 'stroke-width': 1.5});
    
    
    const s = String(v);
    const t = label(g, 582.5, yC(v) + 7.5, s, {'font-size': 21, 'text-anchor': 'end', fill: '#111', textLength: s.length * 8.8, lengthAdjust: 'spacingAndGlyphs'});
    
    
  });
  xLabelsC.forEach((c, i) => {
    const tk = mk(g, 'line', {x1: xC[i], x2: xC[i], y1: 1240.8, y2: 1253.8, stroke: '#333', 'stroke-width': 1.5});
    
    
    const t = label(g, xC[i], 1289, c, {'font-size': 21, 'text-anchor': 'middle', fill: '#111', textLength: i === 0 ? 52.7 : 44, lengthAdjust: 'spacingAndGlyphs'});
    
    
  });
  normalValuesC.forEach(v => {
    const d = mk(g, 'ellipse', {cx: xC[0], cy: yC(v), rx: 7, ry: 9.5, fill: '#0000e6'});
    
    
  });
  tumorValuesC.forEach(v => {
    const d = mk(g, 'rect', {x: xC[1] - 7.3, y: yC(v) - 10, width: 14.6, height: 20, fill: '#cc0000'});
    
    
  });
  normalValuesC.forEach((v, i) => {
    const ln = mk(g, 'line', {x1: xC[0], x2: xC[1], y1: yC(v), y2: yC(tumorValuesC[i]), stroke: '#111', 'stroke-width': 1.4});
    
    
  });
})();

/* ---------- Panel D ---------- */
(function () {
  const g = document.getElementById('panelD');
  const yD = v => 1212.7 - 98.75 * v;
  const xD = i => 1265.1 + 47.9 * i;
  patientsD.forEach((p, i) => {
    const a = mk(g, 'rect', {x: xD(i) - 14, y: yD(tumorTissueD[i]), width: 11.5, height: yD(0) - yD(tumorTissueD[i]), fill: '#e58080', stroke: '#222', 'stroke-width': 1.3});
    
    
    const b = mk(g, 'rect', {x: xD(i) + 4.05, y: yD(normalTissueD[i]), width: 11.5, height: yD(0) - yD(normalTissueD[i]), fill: '#8080ff', stroke: '#222', 'stroke-width': 1.3});
    
    
    const tk = mk(g, 'line', {x1: xD(i), x2: xD(i), y1: 1212.7, y2: 1230, stroke: '#111', 'stroke-width': 2.6});
    
    
    const t = label(g, xD(i) + 1, 1260, p, {'font-size': 27, 'font-style': 'italic', 'text-anchor': 'middle', fill: '#111', textLength: p.length === 2 ? 28 : 42, lengthAdjust: 'spacingAndGlyphs'});
    
    
  });
  const yAx = mk(g, 'line', {x1: 1245.9, x2: 1245.9, y1: 816.5, y2: 1214.2, stroke: '#000', 'stroke-width': 3});
  
  
  const xAx = mk(g, 'line', {x1: 1231.6, x2: 1720.9, y1: 1212.7, y2: 1212.7, stroke: '#000', 'stroke-width': 3});
  
  
  yTicksD.forEach(v => {
    const tk = mk(g, 'line', {x1: 1231.6, x2: 1245.9, y1: yD(v), y2: yD(v), stroke: '#000', 'stroke-width': 2.6});
    
    
    const t = label(g, 1229, yD(v) + 11, v, {'font-size': 26, 'font-weight': 700, 'text-anchor': 'end', fill: '#111'});
    
    
  });
})();

/* ---------- Panel E lane labels ---------- */
(function () {
  const g = document.getElementById('laneLabels');
  function row(list, xs, y) {
    list.forEach((s, i) => {
      const t = label(g, xs[i], y, s, {'class': 'serif', 'font-size': 25, 'text-anchor': 'middle', fill: '#222', textLength: 12, lengthAdjust: 'spacingAndGlyphs'});
      
      
    });
  }
  row(laneTextE, [107,164,215,263.5,321.6,378.4,431.7,481.7], 1629);
  row(laneTextE, [108,158.7,213.5,264,316,367.8,421.6,475], 1921);
  row(laneTextShortE, [546.6,598.6,654.8,703.4], 1921);
})();

/* ---------- Panel F ---------- */
(function () {
  const g = document.getElementById('panelF');
  const xF = v => 786.8 + 127.2 * v;
  const yF = v => 1891 - 119.27 * v;
  let d = '';
  ciXF.forEach((x, i) => { d += (i ? 'L' : 'M') + xF(x).toFixed(1) + ' ' + yF(ciUpperF[i]).toFixed(1); });
  for (let i = ciXF.length - 1; i >= 0; i--) d += 'L' + xF(ciXF[i]).toFixed(1) + ' ' + yF(ciLowerF[i]).toFixed(1);
  const ci = mk(g, 'path', {d: d + 'Z', fill: '#c9c9c9'});
  
  
  const axes = mk(g, 'path', {d: 'M841 1455.8V1864.8H1259', fill: 'none', stroke: '#000', 'stroke-width': 2.5});
  
  
  itgalF.forEach((v, i) => {
    const p = mk(g, 'ellipse', {cx: xF(v), cy: yF(pd1F[i]), rx: 6.2, ry: 7.2, fill: '#5aaed2', 'fill-opacity': .75});
    
    
  });
  const fit = mk(g, 'line', {x1: xF(fitXF[0]), x2: xF(fitXF[1]), y1: yF(fitYF[0]), y2: yF(fitYF[1]), stroke: '#000', 'stroke-width': 2.6});
  
  
  yTicksF.forEach(v => {
    const tk = mk(g, 'line', {x1: 830, x2: 841, y1: yF(v), y2: yF(v), stroke: '#000', 'stroke-width': 2});
    
    
    const t = label(g, 821.7, yF(v) + 8, v.toFixed(1), {'font-size': 22, 'text-anchor': 'end', fill: '#222'});
    
    
  });
  xTicksF.forEach(v => {
    const tk = mk(g, 'line', {x1: xF(v), x2: xF(v), y1: 1864.8, y2: 1876, stroke: '#000', 'stroke-width': 2});
    
    
    const t = label(g, xF(v) + 3, 1902, v, {'font-size': 22, 'text-anchor': 'middle', fill: '#222'});
    
    
  });
})();

/* ---------- Panel G ---------- */
(function () {
  const g = document.getElementById('panelG');
  const xG = v => 1380.7 + 373.6 * v;
  const yG = v => 1865.6 - 425.1 * v;
  minorG.forEach(v => {
    const a = mk(g, 'line', {x1: xG(v), x2: xG(v), y1: 1437, y2: 1865.6, stroke: '#ececec', 'stroke-width': 1.5});
    
    
    const b = mk(g, 'line', {x1: 1378, x2: 1755, y1: yG(v), y2: yG(v), stroke: '#ececec', 'stroke-width': 1.5});
    
    
  });
  ticksG.forEach(v => {
    const a = mk(g, 'line', {x1: xG(v), x2: xG(v), y1: 1437, y2: 1865.6, stroke: '#e8e8e8', 'stroke-width': 2.4});
    
    
    const b = mk(g, 'line', {x1: 1378, x2: 1755, y1: yG(v), y2: yG(v), stroke: '#e8e8e8', 'stroke-width': 2.4});
    
    
    const tx = mk(g, 'line', {x1: xG(v), x2: xG(v), y1: 1865.6, y2: 1876, stroke: '#000', 'stroke-width': 2});
    
    
    const ty = mk(g, 'line', {x1: 1368.3, x2: 1378, y1: yG(v), y2: yG(v), stroke: '#000', 'stroke-width': 2});
    
    
    const lx = label(g, xG(v) + 1, 1901.5, v.toFixed(1), {'font-size': 21, 'text-anchor': 'middle', fill: '#222'});
    
    
    const ly = label(g, 1360, yG(v) + 7.5, v.toFixed(1), {'font-size': 21, 'text-anchor': 'end', fill: '#222'});
    
    
  });
  const diag = mk(g, 'line', {x1: xG(0), y1: yG(0), x2: xG(1), y2: yG(1), stroke: '#b5b5b5', 'stroke-width': 2});
  
  
  const pts = rocFpr.map((f, i) => xG(f).toFixed(1) + ',' + yG(rocTpr[i]).toFixed(1)).join(' ');
  const roc = mk(g, 'polyline', {points: pts, fill: 'none', stroke: '#6bb8d8', 'stroke-width': 2.5});
  
  
  const frame = mk(g, 'rect', {x: 1377.7, y: 1436.1, width: 377.3, height: 429.5, fill: 'none', stroke: '#000', 'stroke-width': 2.5});
  
  
  rocLegendG.forEach((s, i) => {
    const t = label(g, 1746.7, [1802, 1828.5, 1853.5][i], s, {'font-size': 17.5, 'text-anchor': 'end', fill: '#222'});
    
    
  });
})();
</script>
</body>
</html>
